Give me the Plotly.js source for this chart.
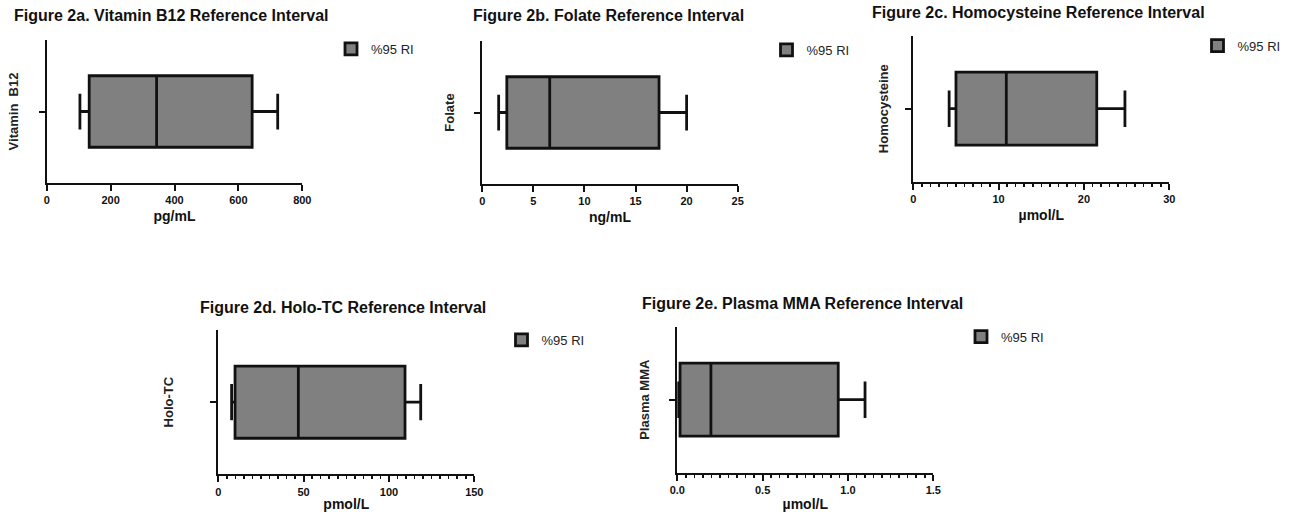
<!DOCTYPE html>
<html>
<head>
<meta charset="utf-8">
<script src="https://cdn.plot.ly/plotly-3.0.1.min.js"></script>
<style>html,body{margin:0;padding:0;background:#fff;}#chart{width:1294px;height:512px;}</style>
</head>
<body>
<div id="chart"></div>
<script>
// ---- data ----
const analytes = ['Vitamin  B12', 'Folate', 'Homocysteine', 'Holo-TC', 'Plasma MMA'];
const panelTitles = [
  'Figure 2a. Vitamin B12 Reference Interval',
  'Figure 2b. Folate Reference Interval',
  'Figure 2c. Homocysteine Reference Interval',
  'Figure 2d. Holo-TC Reference Interval',
  'Figure 2e. Plasma MMA Reference Interval'
];
const units = ['pg/mL', 'ng/mL', 'µmol/L', 'pmol/L', 'µmol/L'];
const lowerWhisker = [104, 1.6, 4.2, 7.8, 0.005];
const q1Values = [133, 2.4, 5.0, 9.8, 0.016];
const medianValues = [344, 6.6, 10.9, 46.9, 0.197];
const q3Values = [643, 17.3, 21.5, 109.4, 0.943];
const upperWhisker = [723, 20.0, 24.8, 118.6, 1.10];
const axisMax = [800, 25, 30, 150, 1.5];
const majorStep = [200, 5, 10, 50, 0.5];
const minorStep = [null, null, 1, 5, 0.05];
const tickFormats = ['', '', '', '', '.1f'];
const seriesName = '%95 RI';

// ---- layout (pixel geometry) ----
const W = 1294, H = 512;
const FONT = 'Liberation Sans, Arial, sans-serif';
const plotBoxes = [ // [left, right, top, bottom] in px
  [46.7, 302.3, 40, 183],
  [482.3, 737.7, 41, 184],
  [913.3, 1169.3, 35.7, 181.7],
  [218.3, 474.3, 330, 474.3],
  [677.3, 933.3, 326.7, 472.7]
];
const yTitleStandoff = [15, 14, 11, 31, 14];
const titlePos = [[12, 15], [470.7, 15], [870, 12], [198, 307], [640, 303]];
const legendPos = [[351, 49], [786.5, 50], [1217.5, 45.7], [521.5, 340], [981, 336.7]];

const traces = [];
const layout = {
  width: W, height: H,
  margin: {l: 0, r: 0, t: 0, b: 0},
  paper_bgcolor: '#fff', plot_bgcolor: '#fff',
  font: {family: FONT, color: '#111'},
  annotations: []
};

analytes.forEach((name, i) => {
  const n = i === 0 ? '' : String(i + 1);
  const legendId = i === 0 ? 'legend' : 'legend' + (i + 1);
  traces.push({
    type: 'box',
    orientation: 'h',
    name: seriesName,
    y: [0],
    q1: [q1Values[i]],
    median: [medianValues[i]],
    q3: [q3Values[i]],
    lowerfence: [lowerWhisker[i]],
    upperfence: [upperWhisker[i]],
    width: 1,
    whiskerwidth: 0.5,
    boxpoints: false,
    fillcolor: '#808080',
    line: {color: '#111', width: 2.8},
    xaxis: 'x' + n, yaxis: 'y' + n,
    legend: legendId,
    showlegend: true,
    hoverinfo: 'x'
  });
  const [l, r, t, b] = plotBoxes[i];
  const xa = {
    domain: [l / W, r / W],
    anchor: 'y' + n,
    range: [0, axisMax[i]],
    showline: true, linecolor: '#111', linewidth: 2,
    ticks: 'outside', ticklen: 6, tickwidth: 2, tickcolor: '#111',
    tick0: 0, dtick: majorStep[i],
    tickformat: tickFormats[i],
    showgrid: false, zeroline: false,
    tickfont: {family: FONT, size: 11, weight: 'bold', color: '#111'},
    title: {text: units[i], font: {family: FONT, size: 14, weight: 'bold', color: '#111'}, standoff: 6},
    fixedrange: true
  };
  if (minorStep[i]) {
    xa.minor = {dtick: minorStep[i], tick0: 0, ticks: 'outside', ticklen: 3, tickwidth: 1.5, tickcolor: '#111', showgrid: false};
  }
  const ya = {
    domain: [1 - b / H, 1 - t / H],
    anchor: 'x' + n,
    range: [-1, 1],
    showline: true, linecolor: '#111', linewidth: 2,
    ticks: 'outside', ticklen: 6, tickwidth: 2, tickcolor: '#111',
    tickvals: [0], ticktext: [''],
    showgrid: false, zeroline: false,
    title: {text: name, font: {family: FONT, size: 13, weight: 'bold', color: '#222'}, standoff: yTitleStandoff[i]},
    fixedrange: true
  };
  layout['xaxis' + n] = xa;
  layout['yaxis' + n] = ya;
  layout[legendId] = {
    x: (legendPos[i][0] - 20) / W, y: 1 - legendPos[i][1] / H,
    xanchor: 'left', yanchor: 'middle',
    bgcolor: 'rgba(0,0,0,0)', borderwidth: 0,
    font: {family: FONT, size: 13, color: '#222'}
  };
  layout.annotations.push({
    text: panelTitles[i],
    xref: 'paper', yref: 'paper',
    x: titlePos[i][0] / W, y: 1 - titlePos[i][1] / H,
    xanchor: 'left', yanchor: 'middle',
    showarrow: false,
    font: {family: FONT, size: 16, weight: 'bold', color: '#111'}
  });
});

Plotly.newPlot('chart', traces, layout, {displayModeBar: false, staticPlot: true});
</script>
</body>
</html>
